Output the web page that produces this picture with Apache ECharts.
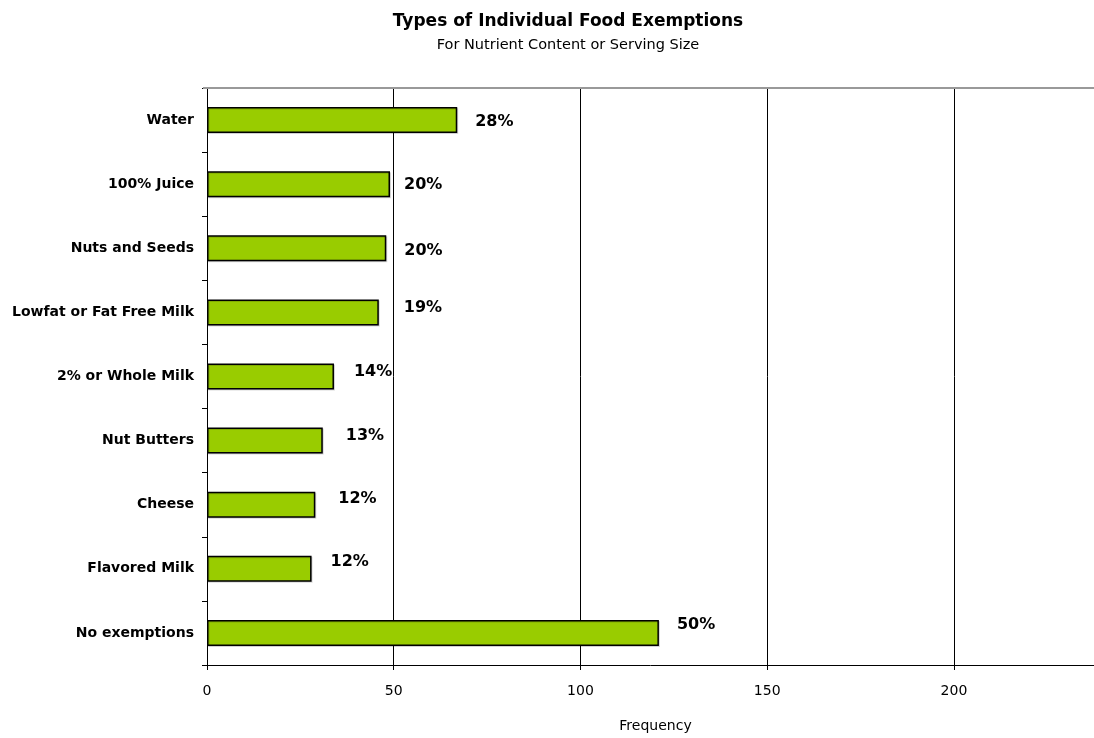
<!DOCTYPE html>
<html>
<head>
<meta charset="utf-8">
<script src="https://cdn.jsdelivr.net/npm/echarts@6/dist/echarts.min.js"></script>
<style>
  html, body { margin: 0; padding: 0; background: #fff; }
  #chart { width: 1094px; height: 738px; }
</style>
</head>
<body>
<div id="chart"></div>
<script>
// Exemption types, listed bottom to top as drawn on the category axis
const categories = ['No exemptions', 'Flavored Milk', 'Cheese', 'Nut Butters', '2% or Whole Milk',
  'Lowfat or Fat Free Milk', 'Nuts and Seeds', '100% Juice', 'Water'];
// Number of responses per exemption type
const frequencies = [121, 28, 29, 31, 34, 46, 48, 49, 67];
// Share of all responses, printed beside each bar
const percentLabels = ['50%', '12%', '12%', '13%', '14%', '19%', '20%', '20%', '28%'];
// Nudge of each percentage label from its default spot (px)
const labelShiftX = [0, 1, 5, 5, 2, 7, 0, -4, 0];
const labelShiftY = [-8, -7, -6, -5, -5, -5, 3, 1, 2];
const xTicks = [0, 50, 100, 150, 200];

const FONT = 'DejaVu Sans';
const chart = echarts.init(document.getElementById('chart'));

chart.setOption({
  animation: false,
  title: {
    text: 'Types of Individual Food Exemptions',
    subtext: 'For Nutrient Content or Serving Size',
    left: 563,
    textAlign: 'center',
    top: 8,
    itemGap: 8,
    textStyle: { fontFamily: FONT, fontSize: 17, fontWeight: 'bold', color: '#000' },
    subtextStyle: { fontFamily: FONT, fontSize: 14.5, color: '#000' }
  },
  grid: { left: 207, right: 0, top: 88, bottom: 72 },
  xAxis: {
    type: 'value',
    min: 0,
    max: 237.5,
    interval: 50,
    name: 'Frequency',
    nameLocation: 'middle',
    nameGap: 54,
    nameTextStyle: { fontFamily: FONT, fontSize: 14, color: '#000', padding: [0, 0, 0, 10] },
    axisLine: { show: true, lineStyle: { color: '#000', width: 1 } },
    axisTick: { show: true, length: 5, lineStyle: { color: '#000' } },
    axisLabel: {
      fontFamily: FONT, fontSize: 14, color: '#000', margin: 19,
      showMaxLabel: false,
      formatter: v => (xTicks.indexOf(v) >= 0 ? String(v) : '')
    },
    splitLine: { show: true, lineStyle: { color: '#000', width: 1 } }
  },
  yAxis: {
    type: 'category',
    data: categories,
    axisLine: { show: true, lineStyle: { color: '#000', width: 1 } },
    axisTick: { show: true, length: 5, lineStyle: { color: '#000' } },
    axisLabel: { fontFamily: FONT, fontSize: 14, fontWeight: 'bold', color: '#000', margin: 13 },
    splitLine: { show: false }
  },
  graphic: [{
    type: 'line',
    shape: { x1: 203, y1: 88, x2: 1094, y2: 88 },
    style: { stroke: '#999', lineWidth: 2 },
    z: 10
  }],
  series: [{
    type: 'bar',
    barWidth: 26,
    data: frequencies.map((v, i) => ({
      value: v,
      label: { offset: [labelShiftX[i], labelShiftY[i]] }
    })),
    itemStyle: {
      color: '#99CC00',
      borderColor: '#000',
      borderWidth: 1.5,
      shadowColor: 'rgba(0,0,0,0.15)',
      shadowOffsetX: 1,
      shadowOffsetY: 1,
      shadowBlur: 0
    },
    label: {
      show: true,
      position: 'right',
      distance: 18,
      fontFamily: FONT,
      fontSize: 16,
      fontWeight: 'bold',
      color: '#000',
      formatter: p => percentLabels[p.dataIndex]
    }
  }]
});
</script>
</body>
</html>
